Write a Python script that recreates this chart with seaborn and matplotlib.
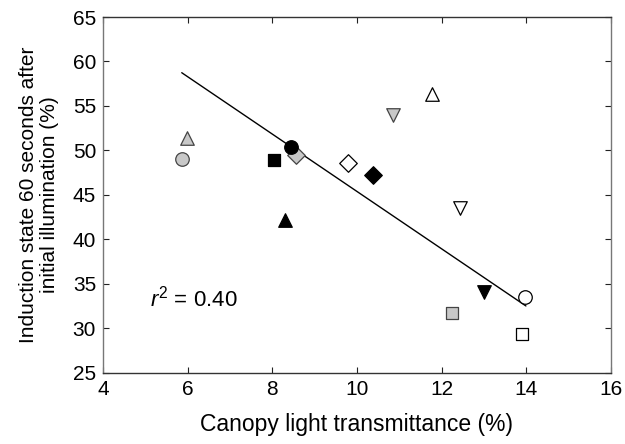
import pandas as pd
import matplotlib.pyplot as plt
import seaborn as sns

# values
transmittance = [5.99, 5.86, 8.04, 8.44, 8.55, 9.79, 10.37, 8.30, 11.77, 10.84, 12.44, 12.99, 12.25, 13.97, 13.90]
induction = [51.4, 49.0, 48.9, 50.4, 49.5, 48.6, 47.3, 42.2, 56.4, 54.0, 43.5, 34.1, 31.7, 33.5, 29.4]
shape = ["^", "o", "s", "o", "D", "D", "D", "^", "^", "v", "v", "v", "s", "o", "s"]
fill = ["grey", "grey", "black", "black", "grey", "white", "black", "black", "white", "grey", "white", "black", "grey", "white", "white"]

fit_x = [5.86, 13.99]
fit_y = [58.74, 32.53]

df = pd.DataFrame({"x": transmittance, "y": induction, "shape": shape, "fill": fill})

sns.set_style("ticks")
plt.rcParams["font.family"] = ["Liberation Sans", "DejaVu Sans"]
plt.rcParams["mathtext.fontset"] = "custom"
plt.rcParams["mathtext.it"] = "Liberation Sans:italic"
plt.rcParams["mathtext.rm"] = "Liberation Sans"
plt.rcParams["text.color"] = "black"
plt.rcParams["axes.labelcolor"] = "black"

fig = plt.figure(figsize=(6.25, 4.44), dpi=100)
ax = fig.add_axes([0.1648, 0.16, 0.8128, 0.8017])

ax.plot(fit_x, fit_y, color="black", lw=1.0, zorder=1)

palette = {"grey": "#c8c8c8", "black": "black", "white": "white"}
for f in ["white", "grey", "black"]:
    sub = df[df["fill"] == f]
    for mk in sub["shape"].unique():
        s = sub[sub["shape"] == mk]
        size = 80 if mk in ("s", "D") else 95
        sns.scatterplot(data=s, x="x", y="y", marker=mk, color=palette[f],
                        edgecolor="black" if f != "grey" else "#444444",
                        linewidth=0.9, s=size, ax=ax, zorder=3, legend=False)

ax.text(5.12, 33.4, r"$r^2$ = 0.40", fontsize=16, va="center", ha="left")

ax.set_xlim(4, 16)
ax.set_ylim(25, 65)
ax.set_xticks(range(4, 17, 2))
ax.set_yticks(range(25, 66, 5))
ax.tick_params(direction="in", length=4, width=0.8, labelsize=15, pad=5,
               top=True, right=True, colors="#222222", labelcolor="black")
ax.set_xlabel("Canopy light transmittance (%)", fontsize=16.5, labelpad=10)
ax.set_ylabel("Induction state 60 seconds after\ninitial illumination (%)",
              fontsize=15, labelpad=10, linespacing=1.1)

for side in ["left", "right"]:
    ax.spines[side].set_color("#777777")
for side in ["top", "bottom"]:
    ax.spines[side].set_color("#333333")
for sp in ax.spines.values():
    sp.set_linewidth(1.0)

fig.savefig("out.png", dpi=100)
